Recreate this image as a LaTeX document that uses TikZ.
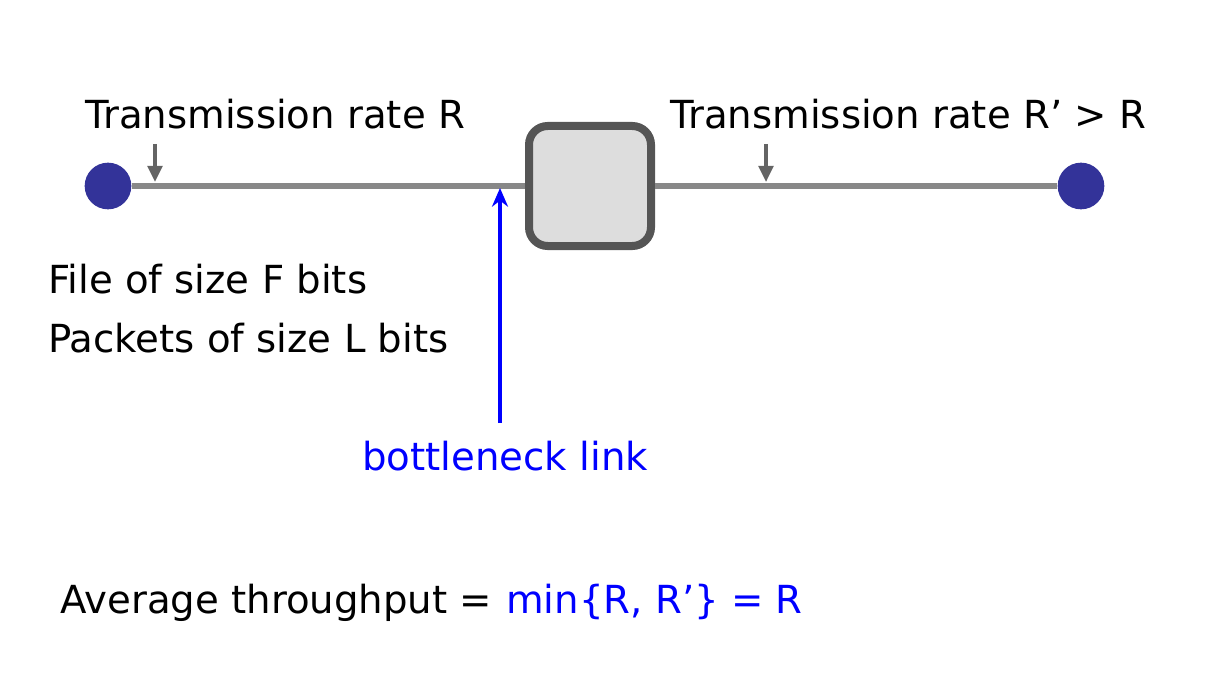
\documentclass[tikz,border=0pt]{standalone}
\usepackage{fontspec}
\setmainfont{DejaVu Sans}
\usetikzlibrary{arrows.meta}

\definecolor{hostblue}{RGB}{51,51,153}
\definecolor{linkgray}{RGB}{136,136,136}
\definecolor{boxedge}{RGB}{85,85,85}
\definecolor{boxfill}{RGB}{221,221,221}
\definecolor{tickgray}{RGB}{100,100,100}

\tikzset{
  host/.style={circle,fill=hostblue,minimum size=35pt,inner sep=0},
  router/.style={draw=boxedge,fill=boxfill,line width=6pt,rounded corners=14pt,minimum width=91.5pt,minimum height=90pt,inner sep=0},
  link/.style={draw=linkgray,line width=5pt},
  lbl/.style={font=\fontsize{29}{34}\selectfont,inner sep=0,anchor=base west}
}

\begin{document}
\begin{tikzpicture}[x=0.75pt,y=-0.75pt]
\useasboundingbox (0,0) rectangle (1206,688);

\node[host] (src) at (108,186) {};
\node[host] (dst) at (1081,186) {};
\node[router] (sw) at (590,186) {};

\draw[link] (src) -- (sw);
\draw[link] (sw) -- (dst);

\node[lbl] (rate1) at (85,129) {Transmission rate R};
\node[lbl] (rate2) at (670,129) {Transmission rate R’ > R};

\coordinate (tick1) at (155,182);
\coordinate (tick2) at (766,182);
\draw[tickgray,line width=2.5pt,-{Triangle[length=12pt,width=11pt]}] (155,144) -- (tick1);
\draw[tickgray,line width=2.5pt,-{Triangle[length=12pt,width=11pt]}] (766,144) -- (tick2);

\node[lbl] (file) at (48,293) {File of size F bits};
\node[lbl] (pkts) at (48,352) {Packets of size L bits};

\node[lbl,text=blue] (neck) at (362,470) {bottleneck link};
\coordinate (neckpt) at (500,188);
\draw[blue,line width=3pt,-{Stealth[length=14pt,width=12pt]}] (500,423) -- (neckpt);

\node[lbl] (avg) at (60,613) {Average throughput =};
\node[lbl,text=blue] (minr) at (506,613) {min\{R, R’\} = R};

\end{tikzpicture}
\end{document}
